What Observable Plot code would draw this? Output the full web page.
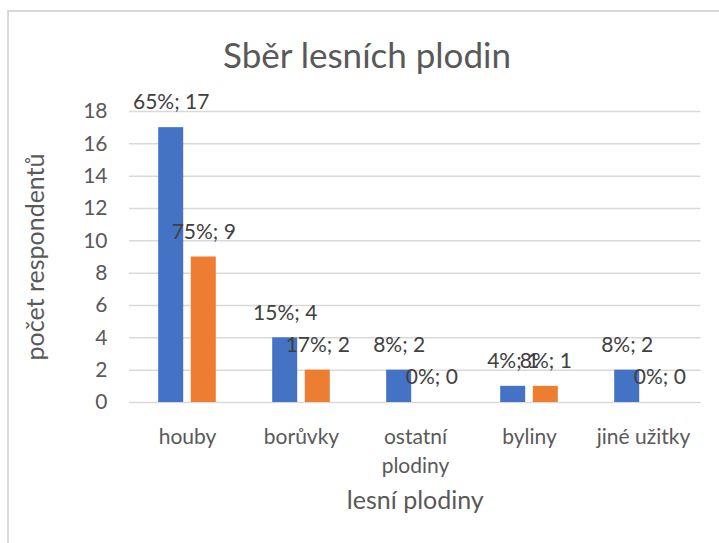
<!DOCTYPE html>
<html>
<head>
<meta charset="utf-8">
<script src="https://cdn.jsdelivr.net/npm/d3@7"></script>
<script src="https://cdn.jsdelivr.net/npm/@observablehq/plot@0.6"></script>
<style>
  html, body { margin: 0; padding: 0; background: #fff; }
  body { width: 719px; height: 543px; position: relative; overflow: hidden; font-family: Lato, "Open Sans", sans-serif; }
  #frame { position: absolute; left: 7px; top: 10px; width: 800px; height: 700px; border-left: 2px solid #d9d9d9; border-top: 2px solid #d9d9d9; box-sizing: border-box; }
  #title { position: absolute; left: 7px; width: 720px; top: 33px; text-align: center; font-size: 35px; color: #595959; line-height: 42px; }
  #chart { position: absolute; left: 0; top: 0; }
</style>
</head>
<body>
<div id="frame"></div>
<div id="title">Sběr lesních plodin</div>
<div id="chart"></div>
<script>
const categories = ["houby", "borůvky", "ostatní plodiny", "byliny", "jiné užitky"];
const categoryTickLabels = ["houby", "borůvky", "ostatní\nplodiny", "byliny", "jiné užitky"];
const seriesA = [17, 4, 2, 1, 2];
const seriesAPct = [65, 15, 8, 4, 8];
const seriesB = [9, 2, 0, 1, 0];
const seriesBPct = [75, 17, 0, 8, 0];
const yTicks = [0, 2, 4, 6, 8, 10, 12, 14, 16, 18];
const yTitle = "počet respondentů";
const xTitle = "lesní plodiny";

const dataA = categories.map((c, i) => ({cat: c, value: seriesA[i], label: `${seriesAPct[i]}%; ${seriesA[i]}`}));
const dataB = categories.map((c, i) => ({cat: c, value: seriesB[i], label: `${seriesBPct[i]}%; ${seriesB[i]}`}));
const tickLabelMap = new Map(categories.map((c, i) => [c, categoryTickLabels[i]]));

const blue = "#4472C4", orange = "#ED7D31", textColor = "#595959";
const barOff = 16.3, inset = 44.5;

const chart = Plot.plot({
  width: 719,
  height: 543,
  marginLeft: 129,
  marginRight: 18.4,
  marginTop: 111,
  marginBottom: 141,
  style: {fontFamily: "Lato, 'Open Sans', sans-serif", fontSize: "21px", color: textColor, background: "transparent", overflow: "visible"},
  x: {domain: categories, padding: 0, axis: null},
  y: {domain: [0, 18], axis: null},
  marks: [
    Plot.ruleY(yTicks, {stroke: "#d9d9d9", strokeWidth: 1.5}),
    Plot.barY(dataA, {x: "cat", y: "value", fill: blue, dx: -barOff, insetLeft: inset, insetRight: inset}),
    Plot.barY(dataB, {x: "cat", y: "value", fill: orange, dx: barOff, insetLeft: inset, insetRight: inset}),
    Plot.axisY({ticks: yTicks, tickSize: 0, tickPadding: 22, fontSize: 21, fill: textColor, label: null}),
    Plot.axisX({tickSize: 0, tickPadding: 21, fontSize: 21, fill: textColor, label: null, lineHeight: 1.38, tickFormat: d => tickLabelMap.get(d)}),
    Plot.text(dataA, {x: "cat", y: "value", text: "label", dx: -barOff, dy: -25, fontSize: 21, fill: "#404040"}),
    Plot.text(dataB, {x: "cat", y: "value", text: "label", dx: barOff, dy: -25, fontSize: 21, fill: "#404040"}),
    Plot.text([yTitle], {frameAnchor: "left", dx: -94, rotate: -90, textAnchor: "middle", lineAnchor: "middle", fontSize: 25, fill: textColor}),
    Plot.text([xTitle], {frameAnchor: "bottom", dy: 98, textAnchor: "middle", lineAnchor: "middle", fontSize: 25, fill: textColor})
  ]
});
document.getElementById("chart").appendChild(chart);
</script>
</body>
</html>
